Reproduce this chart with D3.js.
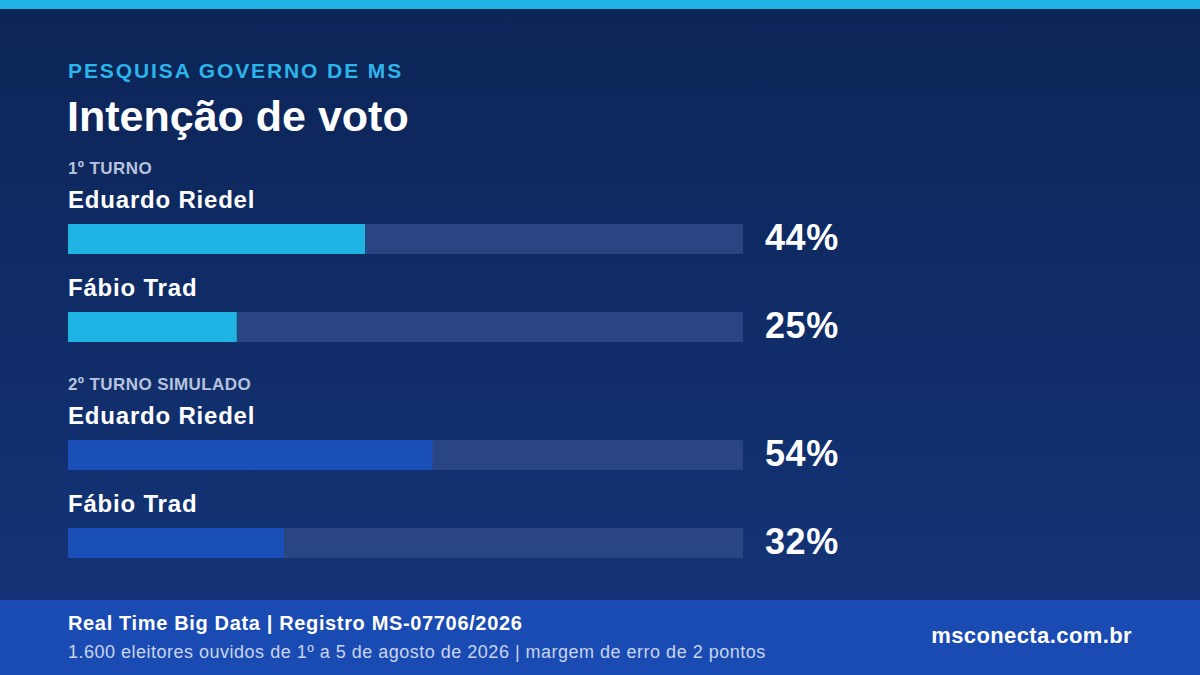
<!DOCTYPE html>
<html><head><meta charset="utf-8">
<script src="https://cdn.jsdelivr.net/npm/d3@7"></script>
<style>body{margin:0;background:#0d2457}svg{display:block;font-family:"Liberation Sans",Arial,sans-serif}</style>
</head><body><svg id="c" width="1200" height="675"></svg>
<script>
var sections = ["1º TURNO", "2º TURNO SIMULADO"];
var candidates = ["Eduardo Riedel", "Fábio Trad", "Eduardo Riedel", "Fábio Trad"];
var values = [44, 25, 54, 32];
var sectionOf = [0, 0, 1, 1];
var barColors = ["#1fb3e3", "#1a4fb8"];

var svg = d3.select('#c');
var defs = svg.append('defs');
var g = defs.append('linearGradient').attr('id', 'bg').attr('x1', 0).attr('y1', 0).attr('x2', 0).attr('y2', 1);
g.append('stop').attr('offset', '0%').attr('stop-color', '#0c2456');
g.append('stop').attr('offset', '100%').attr('stop-color', '#15367b');
svg.append('rect').attr('width', 1200).attr('height', 675).attr('fill', 'url(#bg)');
svg.append('rect').attr('width', 1200).attr('height', 9).attr('fill', '#22b3e6');

svg.append('text').attr('x', 68).attr('y', 78).attr('fill', '#2bb5e8')
  .attr('font-size', 21).attr('letter-spacing', 1.9).attr('font-weight', 'bold').text('PESQUISA GOVERNO DE MS');
svg.append('text').attr('x', 67).attr('y', 131).attr('fill', '#fff')
  .attr('font-size', 43).attr('font-weight', 'bold').text('Intenção de voto');

var x = d3.scaleLinear().domain([0, 100]).range([0, 675]);
var barTop = [224, 312, 440, 528];
var secY = [174, 390];

svg.selectAll('.sec').data(sections).enter().append('text')
  .attr('x', 68).attr('y', function(d, i) { return secY[i]; })
  .attr('fill', '#b7c3de').attr('font-size', 17).attr('letter-spacing', 0.4).attr('font-weight', 'bold').text(function(d) { return d; });

var rows = svg.selectAll('.row').data(values).enter().append('g')
  .attr('transform', function(d, i) { return 'translate(68,' + barTop[i] + ')'; });
rows.append('text').attr('y', -16).attr('fill', '#fff').attr('font-size', 24).attr('letter-spacing', 0.8).attr('font-weight', 'bold')
  .text(function(d, i) { return candidates[i]; });
rows.append('rect').attr('width', x(100)).attr('height', 30).attr('fill', '#2a4682');
rows.append('rect').attr('width', function(d) { return x(d); }).attr('height', 30)
  .attr('fill', function(d, i) { return barColors[sectionOf[i]]; });
rows.append('text').attr('x', 697).attr('y', 26).attr('fill', '#fff').attr('font-size', 36).attr('letter-spacing', 0.6).attr('font-weight', 'bold')
  .text(function(d) { return d + '%'; });

svg.append('rect').attr('y', 600).attr('width', 1200).attr('height', 75).attr('fill', '#1a4bb3');
svg.append('text').attr('x', 68).attr('y', 630).attr('fill', '#fff').attr('font-size', 20).attr('letter-spacing', 0.65).attr('font-weight', 'bold')
  .text('Real Time Big Data | Registro MS-07706/2026');
svg.append('text').attr('x', 68).attr('y', 658).attr('fill', '#c9d4ef').attr('font-size', 18).attr('letter-spacing', 0.5)
  .text('1.600 eleitores ouvidos de 1º a 5 de agosto de 2026 | margem de erro de 2 pontos');
svg.append('text').attr('x', 1132).attr('y', 643).attr('text-anchor', 'end').attr('fill', '#fff')
  .attr('font-size', 22).attr('letter-spacing', 0.4).attr('font-weight', 'bold').text('msconecta.com.br');
</script></body></html>
